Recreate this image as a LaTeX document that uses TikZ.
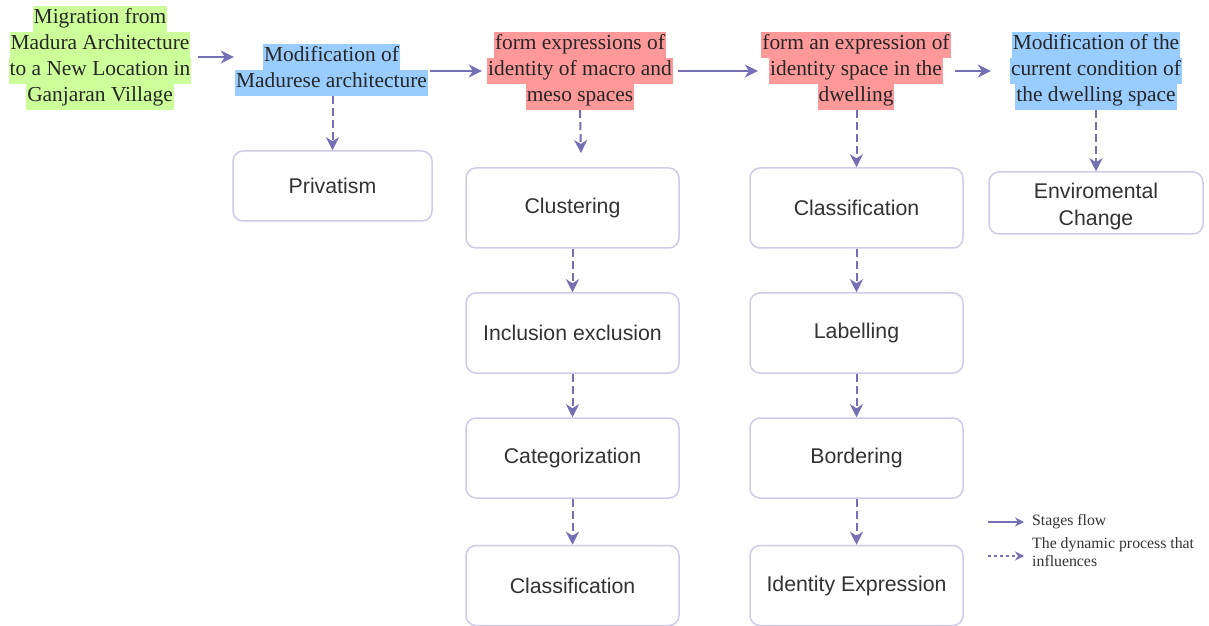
\documentclass[tikz,border=0pt]{standalone}
\usepackage{fontspec}
\setmainfont{Liberation Serif}
\newfontfamily\arialf{Liberation Sans}
\usetikzlibrary{arrows.meta}
\definecolor{flowc}{HTML}{7570B3}
\definecolor{boxc}{HTML}{D0CCE8}
\definecolor{hlgreen}{HTML}{CCFF99}
\definecolor{hlblue}{HTML}{99CCFF}
\definecolor{hlred}{HTML}{FF9999}
\definecolor{txtc}{HTML}{333333}
\tikzset{
  hl/.style={fill=#1, inner xsep=1bp, inner ysep=2.5bp, text height=15.5bp, text depth=5.5bp,
    text=black!85, font=\fontsize{21.4bp}{26bp}\selectfont},
  flow/.style={draw=flowc, line width=2bp, -{Stealth[length=13bp,width=13bp,inset=4bp]}},
  infl/.style={flow, dash pattern=on 8bp off 4bp},
  legflow/.style={draw=flowc, line width=1.5bp, -{Stealth[length=9bp,width=9bp,inset=3bp]}},
  leginfl/.style={legflow, dash pattern=on 3bp off 3bp},
  legtext/.style={anchor=west, align=left, inner sep=0, text=txtc, font=\fontsize{15.8bp}{18bp}\selectfont},
  box/.style={draw=boxc, line width=1.5bp, rounded corners=10bp, fill=white, text=txtc,
    font=\arialf\fontsize{21.3bp}{27bp}\selectfont, align=center, minimum width=213bp,
    minimum height=80bp, inner sep=0},
  cell/.style={inner sep=0, minimum height=0bp, minimum width=#1},
}
\begin{document}
\begin{tikzpicture}[x=1bp,y=-1bp]
\path[use as bounding box, fill=white] (0,0) rectangle (1209,626);

% header texts
\node[hl=hlgreen] (mig1) at (100,19) {Migration from};
\node[hl=hlgreen] (mig2) at (100,45) {Madura Architecture};
\node[hl=hlgreen] (mig3) at (100,71) {to a New Location in};
\node[hl=hlgreen] (mig4) at (100,97) {Ganjaran Village};

\node[hl=hlblue] (mod1) at (331.5,57) {Modification of};
\node[hl=hlblue] (mod2) at (331.5,83) {Madurese architecture};

\node[hl=hlred] (f1a) at (580,45) {form expressions of};
\node[hl=hlred] (f1b) at (580,71) {identity of macro and};
\node[hl=hlred] (f1c) at (580,97) {meso spaces};

\node[hl=hlred] (f2a) at (856,45) {form an expression of};
\node[hl=hlred] (f2b) at (856,71) {identity space in the};
\node[hl=hlred] (f2c) at (856,97) {dwelling};

\node[hl=hlblue] (m2a) at (1096,45) {Modification of the};
\node[hl=hlblue] (m2b) at (1096,71) {current condition of};
\node[hl=hlblue] (m2c) at (1096,97) {the dwelling space};

% invisible cells for the stage arrows
\node[cell=200bp] (migcell) at (98,57) {};
\node[cell=196bp] (modcell) at (332,71) {};
\node[cell=196bp] (f1cell) at (580,71) {};
\node[cell=197bp] (f2cell) at (856.5,71) {};
\node[cell=210bp] (m2cell) at (1096,71) {};

\draw[flow] (migcell.east) -- (migcell.east -| modcell.west);
\draw[flow] (modcell.east) -- (f1cell.west);
\draw[flow] (f1cell.east) -- (f2cell.west);
\draw[flow] (f2cell.east) -- (m2cell.west);

% boxes
\node[box, minimum width=199bp, minimum height=70bp] (priv) at (332.5,186) {Privatism};
\node[box] (l1) at (572.5,208) {Clustering};
\node[box] (l2) at (572.5,333) {Inclusion exclusion};
\node[box] (l3) at (572.5,458) {Categorization};
\node[box] (l4) at (572.5,585.5) {Classification};
\node[box] (r1) at (856.5,208) {Classification};
\node[box] (r2) at (856.5,333) {Labelling};
\node[box] (r3) at (856.5,458) {Bordering};
\node[box] (r4) at (856.5,585.5) {Identity Expression};
\node[box, minimum width=214bp, minimum height=62bp, text height=48.5bp] (env) at (1096,203) {Enviromental\\Change};

% influence arrows
\coordinate (c1) at (581,153);
\draw[infl] (priv.north |- mod2.south) -- (priv.north);
\draw[infl] (f1c.south) -- (c1);
\draw[infl] (r1.north |- f2c.south) -- (r1.north);
\draw[infl] (env.north |- m2c.south) -- (env.north);
\draw[infl] (l1.south) -- (l2.north);
\draw[infl] (l2.south) -- (l3.north);
\draw[infl] (l3.south) -- (l4.north);
\draw[infl] (r1.south) -- (r2.north);
\draw[infl] (r2.south) -- (r3.north);
\draw[infl] (r3.south) -- (r4.north);

% legend
\node[legtext] (leg1) at (1032,522) {Stages flow};
\node[legtext] (leg2) at (1032,552) {The dynamic process that\\influences};
\coordinate (ls1) at (988,522);
\coordinate (ls2) at (988,556);
\draw[legflow] (ls1) -- ([xshift=-8bp]leg1.west);
\draw[leginfl] (ls2) -- ([xshift=-8bp]ls2 -| leg2.west);
\end{tikzpicture}
\end{document}
